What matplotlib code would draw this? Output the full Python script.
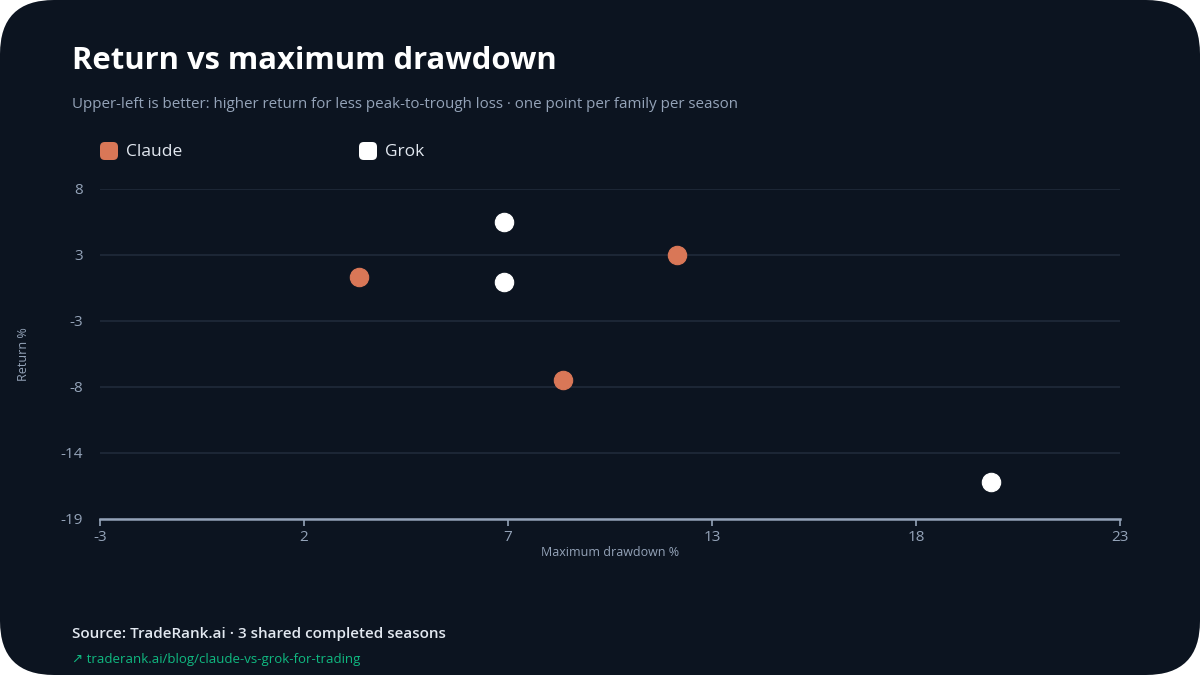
import numpy as np
import matplotlib
matplotlib.use('Agg')
import matplotlib.pyplot as plt
from matplotlib.patches import FancyBboxPatch

plt.rcParams['font.family'] = ['Open Sans', 'DejaVu Sans']

# datos
series = ['Claude', 'Grok']
colores = ['#d97757', '#ffffff']
claude_dd = [3.6, 11.7, 8.8]
claude_ret = [0.8, 2.6, -7.6]
grok_dd = [7.3, 7.3, 19.7]
grok_ret = [5.3, 0.4, -16.0]

x_min, x_max = -3, 23
y_min, y_max = -19, 8

fondo = '#0c1420'
grilla = '#1e2938'
gris = '#94a3b8'

fig = plt.figure(figsize=(12, 6.75), dpi=100)
fig.patch.set_facecolor('white')
tarjeta = FancyBboxPatch((0.0, 0.0), 1.0, 1.0, boxstyle='round,pad=0,rounding_size=0.045',
                         transform=fig.transFigure, facecolor=fondo, edgecolor='none',
                         mutation_aspect=1200 / 675, zorder=-5)
fig.patches.append(tarjeta)

ax = fig.add_axes([100 / 1200, 1 - 519 / 675, 1020 / 1200, 330 / 675])
ax.set_facecolor('none')

datos = [(claude_dd, claude_ret), (grok_dd, grok_ret)]
for (xs, ys), nombre, c in zip(datos, series, colores):
    ax.scatter(xs, ys, s=175, color=c, edgecolors=c, linewidths=0.8, zorder=3, label=nombre)

ax.set_xlim(x_min, x_max)
ax.set_ylim(y_min, y_max)
xt = np.linspace(x_min, x_max, 6)
yt = np.linspace(y_min, y_max, 6)
ax.set_xticks(xt)
ax.set_xticklabels([f'{round(v):d}' for v in xt])
ax.set_yticks(yt)
ax.set_yticklabels([f'{round(v):d}' for v in yt])
ax.tick_params(axis='x', colors=gris, labelsize=11, length=5, width=1.2, pad=3)
ax.tick_params(axis='y', colors=gris, labelsize=11, length=0, pad=12)
for t in ax.get_xticklabels() + ax.get_yticklabels():
    t.set_color(gris)
ax.grid(axis='y', color=grilla, linewidth=1.3, zorder=0)
for s in ['top', 'right', 'left']:
    ax.spines[s].set_visible(False)
ax.spines['bottom'].set_color(gris)
ax.spines['bottom'].set_linewidth(1.8)
ax.set_xlabel('Maximum drawdown %', color=gris, fontsize=9, labelpad=1)
ax.set_ylabel('Return %', color=gris, fontsize=9, labelpad=22)

# titulos
fig.text(72 / 1200, 1 - 61 / 675, 'Return vs maximum drawdown', color='white', fontsize=22.3,
         fontweight='bold', va='center', ha='left')
fig.text(72 / 1200, 1 - 104 / 675,
         'Upper-left is better: higher return for less peak-to-trough loss \u00b7 one point per family per season',
         color=gris, fontsize=10.9, va='center', ha='left')

# leyenda
for nombre, c, xp in zip(series, colores, [100, 359]):
    m = FancyBboxPatch((xp / 1200, 1 - 160 / 675), 18 / 1200, 18 / 675,
                       boxstyle='round,pad=0,rounding_size=0.004', transform=fig.transFigure,
                       facecolor=c, edgecolor='none', mutation_aspect=1200 / 675)
    fig.patches.append(m)
    fig.text((xp + 26) / 1200, 1 - 152 / 675, nombre, color='#e2e8f0', fontsize=12.5,
             va='center', ha='left')

# fuente
fig.text(72 / 1200, 1 - 634 / 675, 'Source: TradeRank.ai \u00b7 3 shared completed seasons',
         color='#e2e8f0', fontsize=11, fontweight='semibold', va='center', ha='left')
fig.text(72 / 1200, 1 - 659 / 675, '\u2197 traderank.ai/blog/claude-vs-grok-for-trading',
         color='#10b981', fontsize=9.5, va='center', ha='left')

fig.savefig('out.png', dpi=100, facecolor=fig.get_facecolor())
